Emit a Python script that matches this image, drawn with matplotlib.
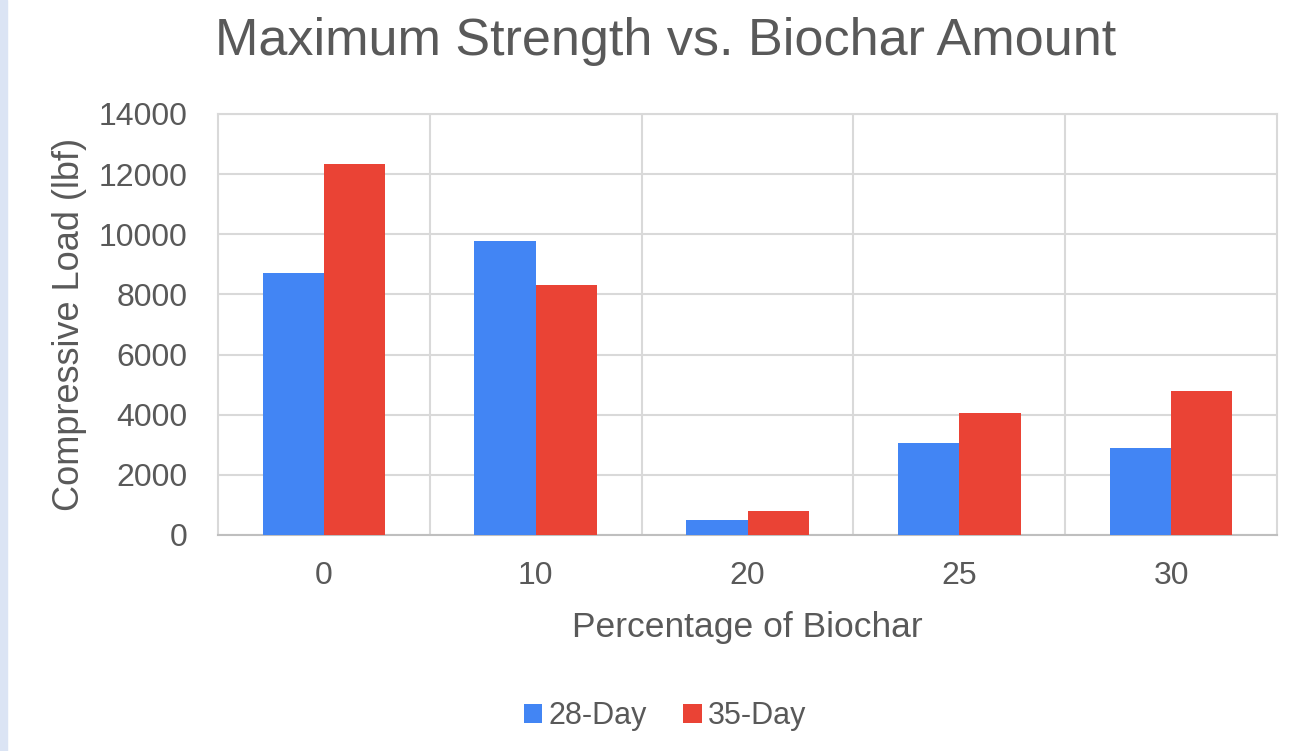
import matplotlib.pyplot as plt
import numpy as np
from matplotlib.patches import Rectangle

categories = ['0', '10', '20', '25', '30']
day28 = [8700, 9780, 500, 3050, 2880]
day35 = [12330, 8310, 790, 4060, 4780]
series_names = ['28-Day', '35-Day']

plt.rcParams['font.family'] = ['Liberation Sans', 'DejaVu Sans']
text_color = '#595959'
blue = '#4285F4'
red = '#EA4335'

fig = plt.figure(figsize=(12.92, 7.51), dpi=100)
fig.patches.append(Rectangle((0, 0), 7 / 1292, 1, transform=fig.transFigure,
                             color='#dbe4f4', zorder=0))

ax = fig.add_axes([218 / 1292, 1 - 535 / 751, 1059 / 1292, 421 / 751])
x = np.arange(len(categories))
w = 0.289
ax.bar(x - w / 2, day28, width=w, color=blue, label=series_names[0], zorder=3)
ax.bar(x + w / 2, day35, width=w, color=red, label=series_names[1], zorder=3)

ax.set_xlim(-0.5, len(categories) - 0.5)
ax.set_ylim(0, 14000)
ax.set_yticks(range(0, 14001, 2000))
ax.set_xticks(x)
ax.set_xticklabels(categories)
ax.set_xticks(np.arange(0.5, len(categories) - 0.5, 1), minor=True)
ax.grid(axis='y', which='major', color='#d9d9d9', linewidth=1.5, zorder=0)
ax.grid(axis='x', which='minor', color='#d9d9d9', linewidth=1.5, zorder=0)
ax.tick_params(which='both', length=0, labelsize=23, colors=text_color)
ax.tick_params(axis='y', pad=22)
ax.tick_params(axis='x', pad=19)
for s in ax.spines.values():
    s.set_color('#d9d9d9')
    s.set_linewidth(1.5)
ax.spines['bottom'].set_color('#bfbfbf')

fig.text(666 / 1292, 1 - 42 / 751, 'Maximum Strength vs. Biochar Amount',
         fontsize=37.5, color=text_color, ha='center', va='center')
ax.set_xlabel('Percentage of Biochar', fontsize=25.5, color=text_color, labelpad=14)
ax.set_ylabel('Compressive Load (lbf)', fontsize=26, color=text_color, labelpad=8)

fig.legend(loc='center', bbox_to_anchor=(665 / 1292, 1 - 716 / 751), ncol=2,
           frameon=False, fontsize=22, labelcolor=text_color, handlelength=0.6,
           handleheight=0.6, handletextpad=0.2, columnspacing=1.2)

fig.savefig('out.png', dpi=100, facecolor='white')
